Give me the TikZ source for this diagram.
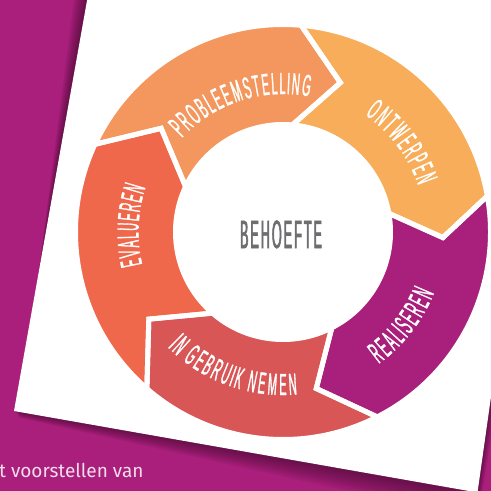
\documentclass[tikz,border=0pt]{standalone}
\usepackage{fontspec}
\usetikzlibrary{calc,decorations.text}

\newfontfamily\labelfont[FakeStretch=0.36, FakeBold=1]{Liberation Sans}
\newfontfamily\hubfont[FakeStretch=0.32, LetterSpace=5, FakeBold=1.5]{Liberation Sans}
\newfontfamily\bodyfont{Fira Sans}

\definecolor{bgpurple}{HTML}{A91F7B}
\definecolor{segA}{HTML}{F4975E}
\definecolor{segB}{HTML}{F8AD5A}
\definecolor{segC}{HTML}{A8207B}
\definecolor{segD}{HTML}{D95656}
\definecolor{segE}{HTML}{F0684B}
\definecolor{hubgray}{HTML}{6E6E70}
\definecolor{bodytext}{HTML}{F3DDEB}

% ring geometry (outer / inner / tip radius)
\def\Ro{207.5pt}
\def\Ri{107.5pt}
\def\Rm{160pt}
% #1 start angle, #2 end angle, #3 notch angle, #4 tip angle, #5 path options
\newcommand\ringseg[5]{%
  \path[#5] (#1:\Ro) arc[start angle=#1, end angle=#2, radius=\Ro]
    -- (#4:\Rm) -- (#2:\Ri) arc[start angle=#2, end angle=#1, radius=\Ri]
    -- (#3:\Rm) -- cycle;}

% labels are spread evenly over the whole arc they are set on
\pgfkeysifdefined{/pgf/decoration/text effects/fit text to path/.@cmd}{%
  \tikzset{seglabel/.style={decorate, decoration={text effects along path, text={#1},
      text effects/.cd, fit text to path, text along path,
      characters={inner sep=0pt, text=white,
        font=\labelfont\fontsize{30.5}{31}\selectfont}}}}%
}{%
  \tikzset{seglabel/.style={decorate, decoration={text along path, text align=center,
      text color=white, text={|\labelfont\fontsize{30.5}{31}\selectfont|#1}}}}%
}

\tikzset{gap/.style={draw=white, line width=5pt, line join=miter}}

\begin{document}
\begin{tikzpicture}[x=1pt,y=1pt]
\useasboundingbox (0,0) rectangle (491,-491);
\clip (0,0) rectangle (491,-491);
\fill[bgpurple] (0,0) rectangle (491,-491);

% tilted card and its soft shadow
\coordinate (cTL) at (96,50);
\coordinate (cBL) at (14,-411);
\coordinate (cBR) at (477.5,-492.5);
\coordinate (cTR) at (554,50);
\coordinate (sTL) at (80,50);
\coordinate (sBL) at (20,-418);
\coordinate (sBR) at (478,-520);
\coordinate (sTR) at (570,50);
\foreach \i in {1,...,10}{
  \fill[black, opacity=0.045] ($(cTL)!\i/10!(sTL)$) -- ($(cBL)!\i/10!(sBL)$)
    -- ($(cBR)!\i/10!(sBR)$) -- ($(cTR)!\i/10!(sTR)$) -- cycle;
}
\fill[white] (cTL) -- (cBL) -- (cBR) -- (cTR) -- cycle;

% cycle ring
\begin{scope}[shift={(283,-232)}]
  \ringseg{155}{85}{139.6}{69}{fill=segA}
  \ringseg{85}{10}{69}{-2}{fill=segB}
  \ringseg{10}{-63}{-2}{-78}{fill=segC}
  \ringseg{-63}{-131}{-78}{-147}{fill=segD}
  \ringseg{-131}{-205}{-147}{-220.4}{fill=segE}
  \ringseg{155}{85}{139.6}{69}{gap}
  \ringseg{85}{10}{69}{-2}{gap}
  \ringseg{10}{-63}{-2}{-78}{gap}
  \ringseg{-63}{-131}{-78}{-147}{gap}
  \ringseg{-131}{-205}{-147}{-220.4}{gap}

  \path[seglabel=PROBLEEMSTELLING] (137:138pt) arc[start angle=137, end angle=79, radius=138pt];
  \path[seglabel=ONTWERPEN] (55:143pt) arc[start angle=55, end angle=19, radius=143pt];
  \path[seglabel=REALISEREN] (-54:163pt) arc[start angle=-54, end angle=-22, radius=163pt];
  \path[seglabel=IN GEBRUIK NEMEN] (-135:163pt) arc[start angle=-135, end angle=-85, radius=163pt];
  \path[seglabel=EVALUEREN] (193:144.5pt) arc[start angle=193, end angle=162, radius=144.5pt];
\end{scope}

\node[font=\hubfont\fontsize{39.5}{40}\selectfont, text=hubgray, anchor=base, inner sep=0]
  (hub) at (281,-248) {BEHOEFTE};

\node[font=\bodyfont\fontsize{19}{23}\selectfont, text=bodytext, anchor=base west, inner sep=0]
  (caption) at (-1,-477) {t voorstellen van};
\end{tikzpicture}
\end{document}
